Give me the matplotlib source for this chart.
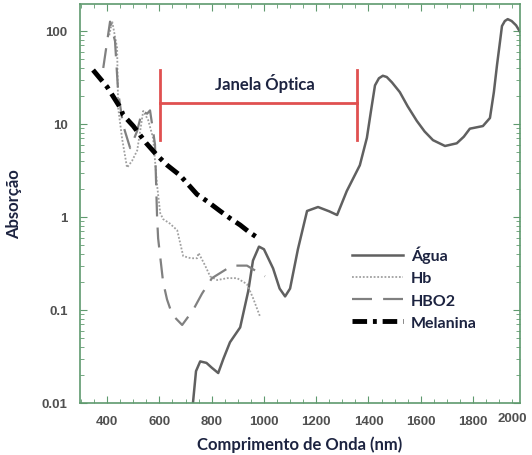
import numpy as np
import matplotlib
matplotlib.use("Agg")
import matplotlib.pyplot as plt
from matplotlib.ticker import MultipleLocator, LogLocator, FixedLocator

# water absorption
agua_nm = [725, 740, 756, 780, 800, 825, 845, 870, 909, 940, 958, 981, 1000, 1035, 1060, 1081,
           1100, 1130, 1165, 1207, 1250, 1280, 1317, 1367, 1394, 1410, 1425, 1440, 1455, 1470,
           1490, 1520, 1550, 1585, 1615, 1647, 1693, 1738, 1765, 1788, 1838, 1865, 1880, 1892,
           1903, 1911, 1922, 1933, 1948, 1965, 1980]
agua_val = [0.008, 0.022, 0.028, 0.027, 0.024, 0.021, 0.030, 0.045, 0.065, 0.16, 0.34, 0.48, 0.45, 0.28, 0.17, 0.14,
            0.17, 0.45, 1.16, 1.28, 1.15, 1.05, 1.9, 3.6, 7.1, 14, 26, 31, 33, 32,
            28, 22, 15.5, 10.8, 8.3, 6.7, 5.8, 6.2, 7.3, 8.9, 9.5, 11.6, 22, 43,
            75, 113, 128, 134, 128, 115, 98]

# deoxy-hemoglobin
hb_nm = [408, 419, 438, 442, 457, 476, 495, 515, 538, 557, 576, 591, 603, 614, 640, 668, 691, 720,
         744, 750, 775, 794, 821, 860, 897, 935, 958, 985]
hb_val = [90, 127, 66, 15, 7, 3.4, 4, 5.2, 13.8, 11, 7, 2.2, 1.1, 0.95, 0.85, 0.72, 0.38, 0.36,
          0.36, 0.41, 0.3, 0.23, 0.21, 0.22, 0.22, 0.19, 0.135, 0.085]

# oxy-hemoglobin
hbo2_nm = [385, 411, 430, 442, 461, 488, 514, 534, 553, 564, 576, 583, 591, 595, 614, 629, 649, 687,
           729, 763, 801, 878, 935, 1004]
hbo2_val = [40, 126, 78, 22, 9.7, 5.5, 8.3, 13.8, 12.9, 14, 8.3, 6, 1.0, 0.59, 0.2, 0.13, 0.089, 0.069,
            0.1, 0.15, 0.22, 0.3, 0.3, 0.23]

# melanin
mel_nm = [346, 400, 450, 461, 500, 526, 550, 591, 630, 679, 744, 782, 832, 870, 909, 940, 975]
mel_val = [38, 25, 15, 12.5, 9.5, 7.6, 6.2, 4.6, 3.6, 2.8, 1.75, 1.48, 1.16, 0.97, 0.82, 0.7, 0.6]

janela = (603, 1356)
x_ticks = [400, 600, 800, 1000, 1200, 1400, 1600, 1800]
y_ticks = [0.01, 0.1, 1, 10, 100]
y_labels = ["0.01", "0.1", "1", "10", "100"]

green = "#5f9a6e"
label_col = "#1c2340"
tick_col = "#505050"

fig = plt.figure(figsize=(5.32, 4.56), dpi=100)
ax = fig.add_axes([80 / 532, 52 / 456, 440 / 532, 399 / 456])

ax.plot(agua_nm, agua_val, color="#606060", lw=1.8, label="Água")
ax.plot(hb_nm, hb_val, color="#a0a0a0", lw=1.3, linestyle=(0, (1, 1)), label="Hb")
ax.plot(hbo2_nm, hbo2_val, color="#808080", lw=1.6, linestyle=(0, (9, 5)), label="HBO2")
ax.plot(mel_nm, mel_val, color="black", lw=3.5, linestyle=(0, (3, 1.2, 0.8, 1.2)), label="Melanina")

# optical window bracket
red = "#e05050"
ax.plot([janela[0], janela[1]], [16.8, 16.8], color=red, lw=2)
ax.plot([janela[0], janela[0]], [6.7, 38], color=red, lw=2)
ax.plot([janela[1], janela[1]], [6.7, 38], color=red, lw=2)
ax.text(1004, 28, "Janela Óptica", ha="center", va="center", fontsize=12,
        fontweight="bold", family="Lato", color=label_col)

ax.set_yscale("log")
ax.set_xlim(296, 1980)
ax.set_ylim(0.01, 195)

ax.xaxis.set_major_locator(FixedLocator(x_ticks))
ax.xaxis.set_minor_locator(MultipleLocator(50))
ax.yaxis.set_major_locator(FixedLocator(y_ticks))
ax.yaxis.set_minor_locator(LogLocator(base=10, subs=np.arange(2, 10)))
ax.set_yticklabels(y_labels)
ax.tick_params(which="both", direction="in", top=True, right=True, color=green)
ax.tick_params(which="major", length=5, labelsize=9.5, labelcolor=tick_col, pad=9)
ax.tick_params(which="minor", length=3, labelleft=False)
for lab in ax.get_xticklabels() + ax.get_yticklabels():
    lab.set_fontweight("bold")
    lab.set_family("Liberation Sans")
# last x label sits at the right edge of the frame
ax.text(0.982, -0.0225, "2000", transform=ax.transAxes, ha="center", va="top",
        fontsize=9.5, fontweight="bold", family="Liberation Sans", color=tick_col)
for s in ax.spines.values():
    s.set_color(green)
    s.set_linewidth(1.2)

ax.set_xlabel("Comprimento de Onda (nm)", fontsize=12, fontweight="bold", family="Lato",
              color=label_col, labelpad=6)
ax.set_ylabel("Absorção", fontsize=12, fontweight="bold", family="Lato",
              color=label_col, labelpad=14)

leg = ax.legend(loc="upper left", bbox_to_anchor=(0.585, 0.43), frameon=False,
                handlelength=3.2, handletextpad=0.5, labelspacing=0.5,
                prop={"family": "Lato", "weight": "bold", "size": 11.5})
for t in leg.get_texts():
    t.set_color(label_col)

fig.savefig("out.png", dpi=100)
